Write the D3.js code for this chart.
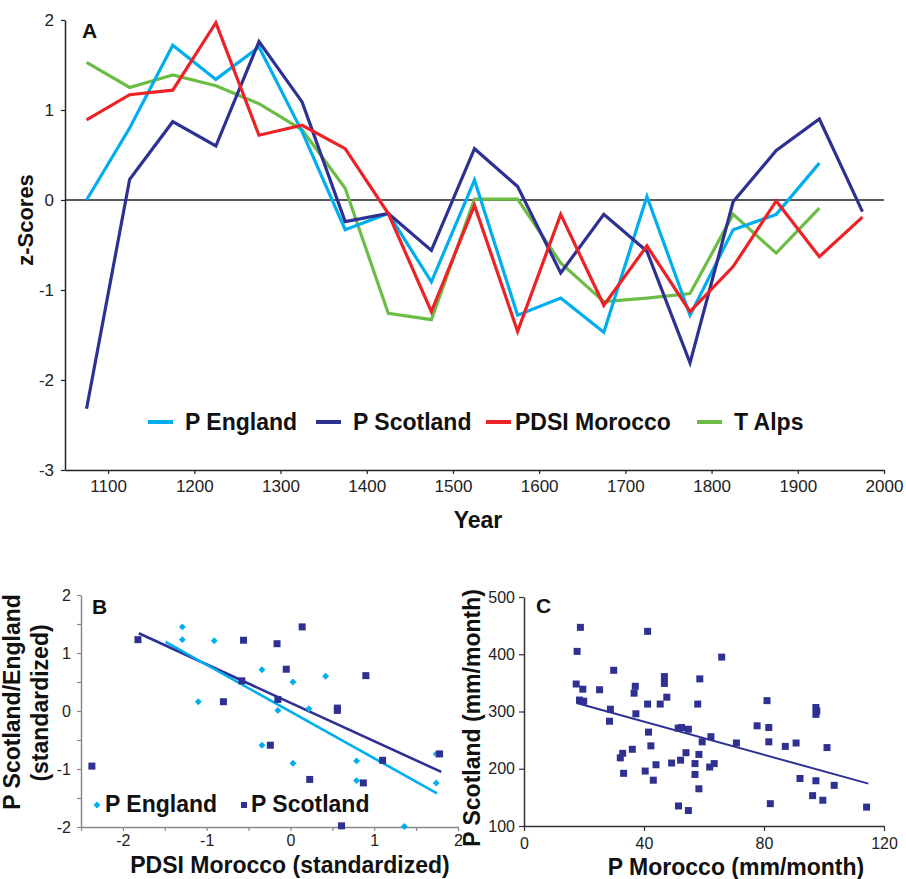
<!DOCTYPE html>
<html>
<head>
<meta charset="utf-8">
<script src="https://cdn.jsdelivr.net/npm/d3@7"></script>
<style>
  body { margin: 0; background: #fff; }
  svg { display: block; font-family: "Liberation Sans", Arial, sans-serif; }
  .tick text { font-size: 17px; fill: #222; }
  .small .tick text { font-size: 16px; }
  .lbl { font-weight: bold; font-size: 23px; fill: #111; }
</style>
</head>
<body>
<svg id="chart" width="906" height="879"></svg>
<script>
// panel A - z-scores per 50 yr bin
const years = [1075, 1125, 1175, 1225, 1275, 1325, 1375, 1425, 1475, 1525, 1575, 1625, 1675, 1725, 1775, 1825, 1875, 1925, 1975];
const pEngland = [0.00, 0.80, 1.72, 1.34, 1.70, 0.76, -0.33, -0.15, -0.91, 0.22, -1.28, -1.09, -1.47, 0.04, -1.28, -0.33, -0.16, 0.41, null];
const pScotland = [-2.32, 0.23, 0.87, 0.60, 1.76, 1.09, -0.24, -0.15, -0.56, 0.57, 0.15, -0.81, -0.16, -0.57, -1.81, -0.02, 0.55, 0.90, -0.13];
const pdsiMorocco = [0.89, 1.17, 1.22, 1.97, 0.72, 0.83, 0.57, -0.15, -1.24, -0.06, -1.46, -0.16, -1.17, -0.51, -1.24, -0.74, -0.01, -0.63, -0.19];
const tAlps = [1.53, 1.25, 1.39, 1.27, 1.07, 0.78, 0.13, -1.26, -1.33, 0.01, 0.01, -0.70, -1.13, -1.09, -1.04, -0.16, -0.59, -0.09, null];
const yearTicks = [1100, 1200, 1300, 1400, 1500, 1600, 1700, 1800, 1900, 2000];
const zTicks = [-3, -2, -1, 0, 1, 2];

// panel B - standardized scatter [pdsi, p]
const englandPts = [[-1.29, 1.45], [-1.29, 1.23], [-0.91, 1.21], [-1.10, 0.16], [-0.34, 0.71], [0.42, 0.60], [0.03, 0.50], [-0.15, 0.01], [0.22, 0.04], [-0.34, -0.59], [0.03, -0.90], [0.79, -0.86], [0.79, -1.20], [1.74, -0.74], [1.74, -1.24], [1.36, -1.99]];
const scotlandPts = [[-2.37, -0.95], [-1.82, 1.23], [-0.56, 1.22], [-0.16, 1.16], [0.14, 1.45], [-0.05, 0.72], [0.90, 0.61], [-0.80, 0.16], [-0.15, 0.20], [-0.58, 0.52], [0.56, 0.05], [0.56, 0.01], [-0.24, -0.59], [0.23, -1.18], [0.87, -1.24], [1.10, -0.85], [1.78, -0.74], [0.61, -1.98]];
const englandFit = [[-1.49, 1.19], [1.75, -1.42]];
const scotlandFit = [[-1.81, 1.34], [1.80, -1.05]];
const stdTicks = [-2.5, -2, -1.5, -1, -0.5, 0, 0.5, 1, 1.5, 2];

// panel C - monthly precipitation [morocco, scotland]
const precipPts = [[18.8, 447], [17.7, 405], [17.4, 348], [19.6, 339], [18.5, 320], [19.9, 318], [25.2, 338], [29.9, 372], [28.8, 304], [28.5, 283],
  [32.1, 219], [32.9, 227], [33.2, 192], [36.1, 234], [36.7, 332], [37.1, 344], [37.3, 296], [40.4, 196], [41.2, 440], [41.2, 313],
  [41.5, 264], [42.3, 240], [43.1, 180], [44.0, 207], [45.4, 313], [46.8, 361], [46.8, 349], [47.6, 325], [49.2, 210], [51.4, 271],
  [52.2, 215], [52.5, 272], [54.0, 228], [54.8, 269], [51.5, 135], [54.8, 127], [57.0, 209], [57.0, 190], [57.9, 313], [58.3, 225],
  [58.3, 165], [58.6, 357], [59.4, 247], [61.9, 203], [62.3, 256], [63.4, 209], [65.9, 395], [70.8, 245], [77.7, 275], [81.0, 319],
  [81.6, 272], [81.6, 247], [82.1, 139], [87.1, 239], [90.7, 245], [92.0, 183], [96.2, 153], [97.3, 307], [97.6, 301], [97.3, 295],
  [97.3, 179], [99.6, 145], [101.0, 237], [103.4, 171], [114.2, 133]];
const precipFit = [[17.5, 315], [114.8, 174]];
const moroccoTicks = [0, 40, 80, 120];
const scotTicks = [100, 200, 300, 400, 500];

const cEngland = "#00aeef";
const cScotland = "#2e3192";
const cMorocco = "#ed2227";
const cAlps = "#6cbd45";

const svg = d3.select("#chart");
svg.append("rect").attr("width", 906).attr("height", 879).attr("fill", "#fff");

function styleAxis(g, color) {
    g.select(".domain").attr("stroke", color).attr("stroke-width", 1.5);
    g.selectAll(".tick line").attr("stroke", color).attr("stroke-width", 1.2);
}

// ---------- panel A ----------
const xA = d3.scaleLinear().domain([1050, 2000]).range([65, 884]);
const yA = d3.scaleLinear().domain([-3, 2]).range([470, 20]);

const axA = svg.append("g").attr("transform", `translate(0,${yA(-3)})`)
    .call(d3.axisBottom(xA).tickValues(yearTicks).tickSize(4).tickSizeOuter(0).tickPadding(6).tickFormat(d => d));
styleAxis(axA, "#222");
const ayA = svg.append("g").attr("transform", `translate(${xA(1050)},0)`)
    .call(d3.axisLeft(yA).tickValues(zTicks).tickSize(4).tickSizeOuter(0).tickPadding(7).tickFormat(d => String(d)));
styleAxis(ayA, "#222");

svg.append("line")
    .attr("x1", xA(1050)).attr("x2", xA(2000))
    .attr("y1", yA(0)).attr("y2", yA(0))
    .attr("stroke", "#222").attr("stroke-width", 1.5);

const seriesA = [
    { name: "P England", vals: pEngland, color: cEngland },
    { name: "P Scotland", vals: pScotland, color: cScotland },
    { name: "PDSI Morocco", vals: pdsiMorocco, color: cMorocco },
    { name: "T Alps", vals: tAlps, color: cAlps }
];

const lineA = d3.line()
    .defined(d => d[1] != null)
    .x(d => xA(d[0]))
    .y(d => yA(d[1]));

// draw order so navy and red sit over the light ones like the original
[seriesA[3], seriesA[0], seriesA[1], seriesA[2]].forEach(s => {
    svg.append("path")
        .datum(years.map((y, i) => [y, s.vals[i]]))
        .attr("fill", "none")
        .attr("stroke", s.color)
        .attr("stroke-width", 3.2)
        .attr("stroke-linejoin", "miter")
        .attr("d", lineA);
});

const legA = [148, 316, 486, 697];
seriesA.forEach((s, i) => {
    svg.append("line")
        .attr("x1", legA[i]).attr("x2", legA[i] + 25)
        .attr("y1", 422).attr("y2", 422)
        .attr("stroke", s.color).attr("stroke-width", 4);
    svg.append("text").attr("class", "lbl")
        .attr("x", legA[i] + (i === 2 ? 29 : 37)).attr("y", 430)
        .text(s.name);
});

svg.append("text").attr("class", "lbl").attr("x", 82).attr("y", 38).style("font-size", "21px").text("A");
svg.append("text").attr("class", "lbl")
    .attr("transform", "translate(33,220) rotate(-90)")
    .attr("text-anchor", "middle").style("font-size", "22px").text("z-Scores");
svg.append("text").attr("class", "lbl").attr("x", 478).attr("y", 528)
    .attr("text-anchor", "middle").style("font-size", "23px").text("Year");

// ---------- panel B ----------
const xB = d3.scaleLinear().domain([-2.5, 2]).range([81, 458]);
const yB = d3.scaleLinear().domain([-2, 2]).range([827, 595]);
const intFmt = d => Number.isInteger(d) ? String(d) : "";

const axB = svg.append("g").attr("class", "small").attr("transform", `translate(0,${yB(-2)})`)
    .call(d3.axisBottom(xB).tickValues(stdTicks).tickSize(4).tickSizeOuter(0).tickPadding(4).tickFormat(intFmt));
styleAxis(axB, "#888");
const ayB = svg.append("g").attr("class", "small").attr("transform", `translate(${xB(-2.5)},0)`)
    .call(d3.axisLeft(yB).tickValues(stdTicks.filter(d => d >= -2)).tickSize(4).tickSizeOuter(0).tickPadding(6).tickFormat(intFmt));
styleAxis(ayB, "#888");

const fitLine = (xs, ys) => d3.line().x(d => xs(d[0])).y(d => ys(d[1]));

svg.append("path").datum(scotlandFit).attr("fill", "none")
    .attr("stroke", cScotland).attr("stroke-width", 2.6).attr("d", fitLine(xB, yB));
svg.append("path").datum(englandFit).attr("fill", "none")
    .attr("stroke", cEngland).attr("stroke-width", 2.6).attr("d", fitLine(xB, yB));

// diamonds = squares turned 45 deg
const diamond = d3.symbol().type(d3.symbolSquare).size(24);
svg.selectAll(".ptE").data(englandPts).enter().append("path")
    .attr("class", "ptE")
    .attr("transform", d => `translate(${xB(d[0])},${yB(d[1])}) rotate(45)`)
    .attr("d", diamond)
    .attr("fill", cEngland);

svg.selectAll(".ptS").data(scotlandPts).enter().append("rect")
    .attr("class", "ptS")
    .attr("x", d => xB(d[0]) - 3.5).attr("y", d => yB(d[1]) - 3.5)
    .attr("width", 7).attr("height", 7)
    .attr("fill", cScotland);

// legend B
svg.append("path").attr("transform", "translate(97,805) rotate(45)").attr("d", diamond).attr("fill", cEngland);
svg.append("text").attr("class", "lbl").attr("x", 105).attr("y", 812).text("P England");
svg.append("rect").attr("x", 241).attr("y", 802).attr("width", 6).attr("height", 6).attr("fill", cScotland);
svg.append("text").attr("class", "lbl").attr("x", 251).attr("y", 812).text("P Scotland");

svg.append("text").attr("class", "lbl").attr("x", 92).attr("y", 614).style("font-size", "21px").text("B");
svg.append("text").attr("class", "lbl")
    .attr("transform", "translate(20,702) rotate(-90)")
    .attr("text-anchor", "middle").text("P Scotland/England");
svg.append("text").attr("class", "lbl")
    .attr("transform", "translate(48,703) rotate(-90)")
    .attr("text-anchor", "middle").text("(standardized)");
svg.append("text").attr("class", "lbl").attr("x", 290).attr("y", 873)
    .attr("text-anchor", "middle").text("PDSI Morocco (standardized)");

// ---------- panel C ----------
const xC = d3.scaleLinear().domain([0, 120]).range([524, 884]);
const yC = d3.scaleLinear().domain([100, 500]).range([826, 597]);

const axC = svg.append("g").attr("class", "small").attr("transform", `translate(0,${yC(100)})`)
    .call(d3.axisBottom(xC).tickValues(moroccoTicks).tickSize(5).tickSizeOuter(0).tickPadding(7).tickFormat(d => d));
styleAxis(axC, "#333");
const ayC = svg.append("g").attr("class", "small").attr("transform", `translate(${xC(0)},0)`)
    .call(d3.axisLeft(yC).tickValues(scotTicks).tickSize(5).tickSizeOuter(0).tickPadding(4).tickFormat(d => d));
styleAxis(ayC, "#333");

svg.selectAll(".ptC").data(precipPts).enter().append("rect")
    .attr("class", "ptC")
    .attr("x", d => xC(d[0]) - 3.5).attr("y", d => yC(d[1]) - 3.5)
    .attr("width", 7).attr("height", 7)
    .attr("fill", cScotland);

svg.append("path").datum(precipFit).attr("fill", "none")
    .attr("stroke", cScotland).attr("stroke-width", 2).attr("d", fitLine(xC, yC));

svg.append("text").attr("class", "lbl").attr("x", 536).attr("y", 613).style("font-size", "21px").text("C");
svg.append("text").attr("class", "lbl")
    .attr("transform", "translate(480,718) rotate(-90)")
    .attr("text-anchor", "middle").text("P Scotland (mm/month)");
svg.append("text").attr("class", "lbl").attr("x", 736).attr("y", 875)
    .attr("text-anchor", "middle").text("P Morocco (mm/month)");
</script>
</body>
</html>
